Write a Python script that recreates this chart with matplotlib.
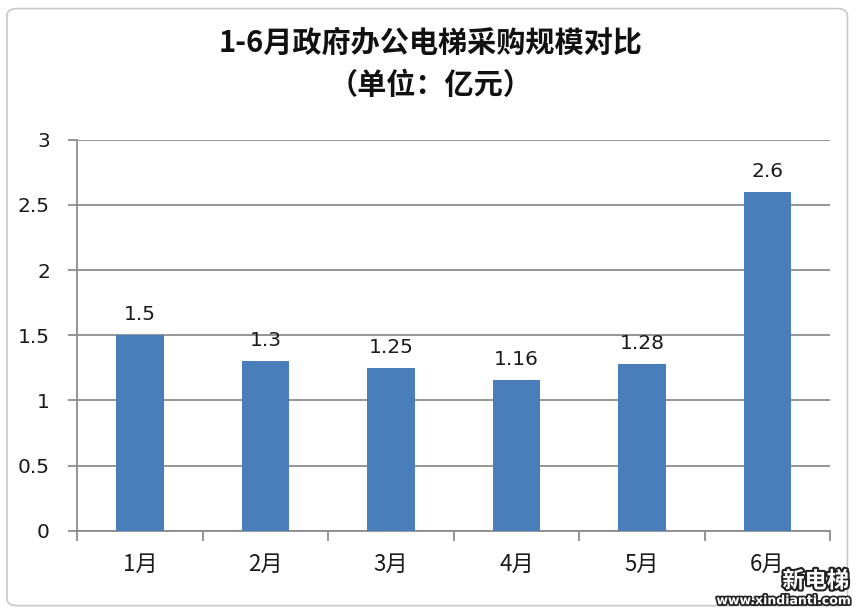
import matplotlib.pyplot as plt
import matplotlib.patheffects as pe
from matplotlib.patches import FancyBboxPatch

plt.rcParams['font.family'] = ['Noto Sans CJK SC', 'DejaVu Sans']

months = ['1月', '2月', '3月', '4月', '5月', '6月']
values = [1.5, 1.3, 1.25, 1.16, 1.28, 2.6]
value_labels = ['1.5', '1.3', '1.25', '1.16', '1.28', '2.6']
y_ticks = [0, 0.5, 1, 1.5, 2, 2.5, 3]
y_tick_labels = ['0', '0.5', '1', '1.5', '2', '2.5', '3']

grid_col = '#8c8c8c'

fig = plt.figure(figsize=(8.56, 6.13), dpi=100)
fig.patch.set_facecolor('white')

# light rounded frame around the whole chart
frame = FancyBboxPatch((0.008, 0.012), 0.982, 0.974,
                       boxstyle='round,pad=0,rounding_size=0.012',
                       transform=fig.transFigure, fill=False,
                       edgecolor='#c8c8c8', linewidth=1.2)
fig.patches.append(frame)

ax = fig.add_axes([0.09, 0.134, 0.88, 0.638])

x = list(range(len(months)))
ax.bar(x, values, width=0.38, color='#4a7ebb', zorder=3)

for xi, v, lab in zip(x, values, value_labels):
    ax.annotate(lab, (xi, v), xytext=(0, 8), textcoords='offset points',
                ha='center', va='bottom', fontsize=14.5, color='#1a1a1a',
                family='DejaVu Sans')

ax.set_ylim(0, 3)
ax.set_xlim(-0.5, len(months) - 0.5)
ax.set_yticks(y_ticks)
ax.set_yticklabels(y_tick_labels, fontsize=14.5, family='DejaVu Sans')
ax.set_xticks(x)
ax.set_xticklabels(months, fontsize=16)
ax.set_xticks([i - 0.5 for i in range(len(months) + 1)], minor=True)

ax.tick_params(axis='x', which='major', length=0, pad=16, colors='#1a1a1a')
ax.tick_params(axis='x', which='minor', length=7, width=1.3, color=grid_col, direction='out')
ax.tick_params(axis='y', length=6.5, width=1.3, color=grid_col, direction='out',
               pad=13, labelcolor='#1a1a1a')

ax.grid(axis='y', color=grid_col, linewidth=1.3, zorder=0)
ax.set_axisbelow(True)
for side in ['top', 'right']:
    ax.spines[side].set_visible(False)
for side in ['left', 'bottom']:
    ax.spines[side].set_color(grid_col)
    ax.spines[side].set_linewidth(1.3)

fig.text(0.503, 0.93, '1-6月政府办公电梯采购规模对比', ha='center', va='center',
         fontsize=21, fontweight='bold', color='#111111')
fig.text(0.503, 0.862, '（单位：亿元）', ha='center', va='center',
         fontsize=21, fontweight='bold', color='#111111')

# site watermark in the corner
fig.text(0.953, 0.052, '新电梯', ha='center', va='center', fontsize=16,
         fontweight='bold', color='white',
         path_effects=[pe.withStroke(linewidth=3, foreground='#222222')])
fig.text(0.915, 0.02, 'www.xindianti.com', ha='center', va='center', fontsize=9,
         fontweight='bold', color='white', family='DejaVu Sans',
         path_effects=[pe.withStroke(linewidth=2.5, foreground='#222222')])

fig.savefig('out.png', dpi=100, facecolor='white')
